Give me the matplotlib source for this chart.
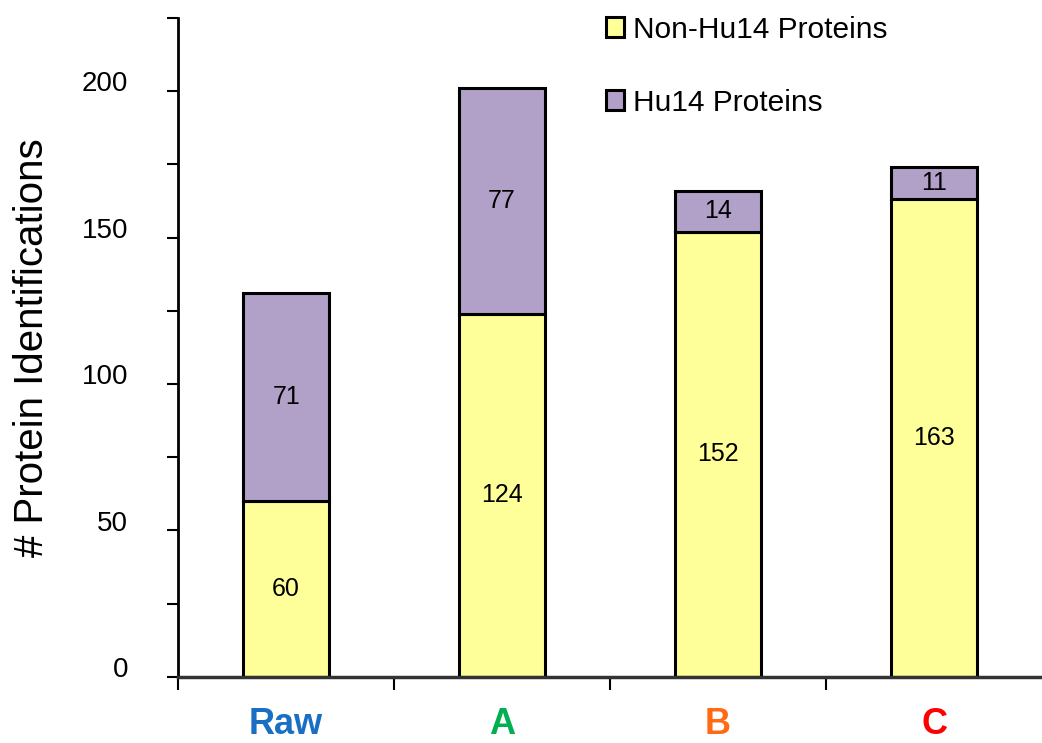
import matplotlib.pyplot as plt
import matplotlib.transforms as mtransforms
from matplotlib.ticker import MultipleLocator

plt.rcParams['font.family'] = ['Liberation Sans', 'DejaVu Sans']

categories = ['Raw', 'A', 'B', 'C']
cat_colors = ['#1a6fc4', '#00b050', '#ff6a13', '#ff0000']
non_hu14 = [60, 124, 152, 163]
hu14 = [71, 77, 14, 11]

fig = plt.figure(figsize=(10.42, 7.43), dpi=100)
ax = fig.add_axes([0.171, 0.089, 0.829, 0.887])

x = list(range(len(categories)))
b1 = ax.bar(x, non_hu14, width=0.4, color='#ffff99', edgecolor='black',
            linewidth=2.2, label='Non-Hu14 Proteins', zorder=2)
b2 = ax.bar(x, hu14, width=0.4, bottom=non_hu14, color='#b1a0c7',
            edgecolor='black', linewidth=2.2, label='Hu14 Proteins', zorder=2)
ax.bar_label(b1, label_type='center', fontsize=18)
ax.bar_label(b2, label_type='center', fontsize=18)

ax.set_xlim(-0.5, 3.5)
ax.set_ylim(0, 225)
ax.yaxis.set_major_locator(MultipleLocator(50))
ax.yaxis.set_minor_locator(MultipleLocator(25))
ax.tick_params(axis='y', which='both', length=8, width=1.5, labelsize=20, pad=28)
# labels in the original sit a little above their ticks
shift = mtransforms.ScaledTranslation(0, 7 / 72, fig.dpi_scale_trans)
for lbl in ax.get_yticklabels():
    lbl.set_transform(lbl.get_transform() + shift)

# ticks at category boundaries, labels at centres
ax.set_xticks([-0.5, 0.5, 1.5, 2.5])
ax.set_xticklabels([])
ax.tick_params(axis='x', which='major', length=9, width=1.5)
ax.set_xticks(x, minor=True)
ax.set_xticklabels(categories, minor=True, fontsize=26, fontweight='bold')
ax.tick_params(axis='x', which='minor', length=0, pad=22)
for lbl, c in zip(ax.get_xticklabels(minor=True), cat_colors):
    lbl.set_color(c)

for s in ['top', 'right']:
    ax.spines[s].set_visible(False)
ax.spines['left'].set_linewidth(2)
ax.spines['bottom'].set_linewidth(2.5)
ax.spines['bottom'].set_color('#333333')

ax.set_ylabel('# Protein Identifications', fontsize=29, labelpad=22)

ax.legend(loc='upper left', bbox_to_anchor=(0.482, 1.021), frameon=False,
          fontsize=21.5, handlelength=0.6, handleheight=0.65, handletextpad=0.3,
          labelspacing=1.5, borderaxespad=0)

fig.savefig('out.png', dpi=100)
